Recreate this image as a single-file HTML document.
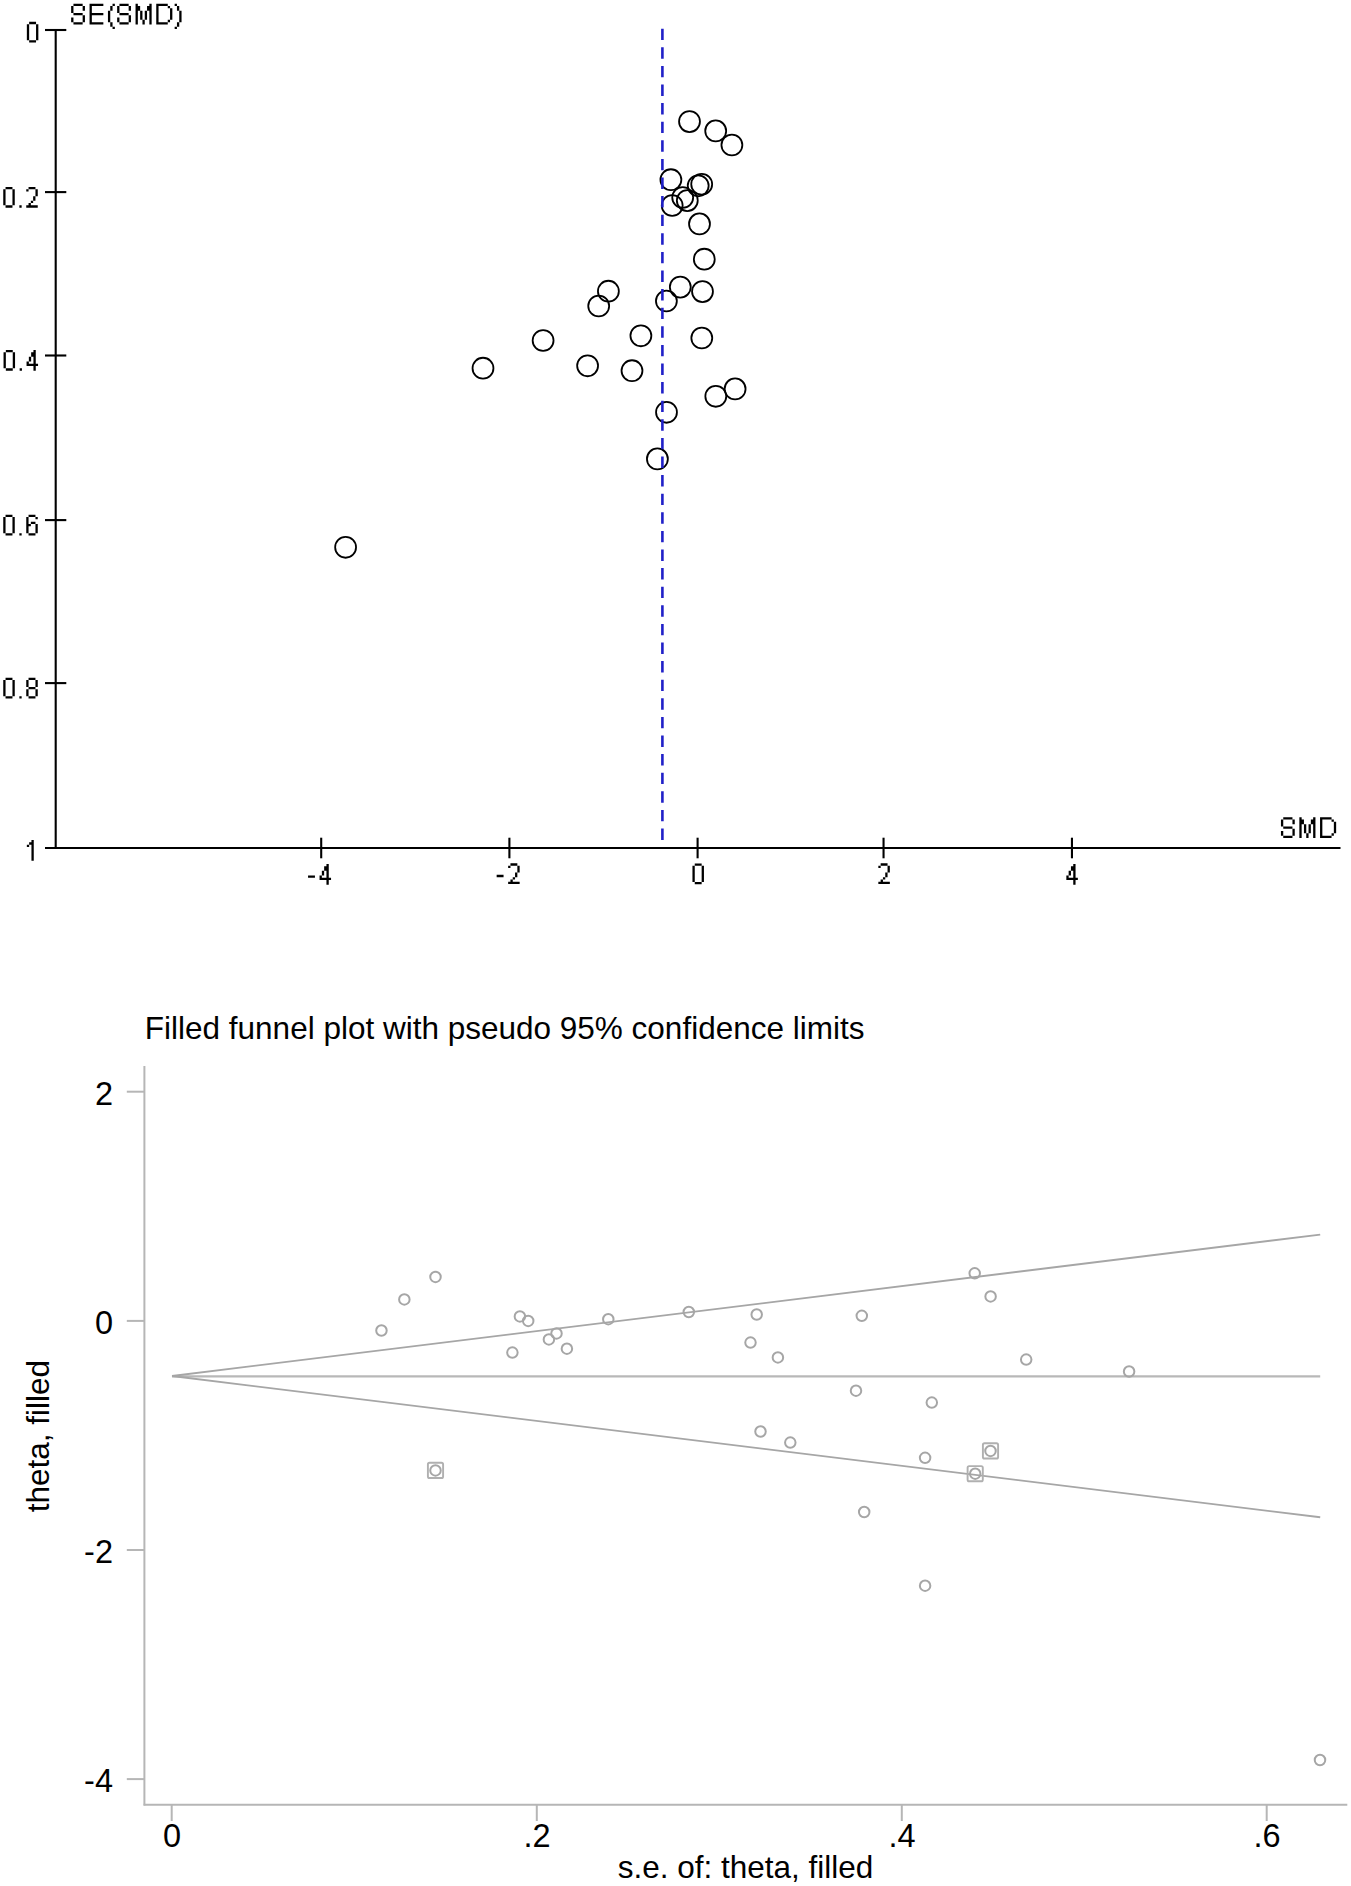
<!DOCTYPE html>
<html><head><meta charset="utf-8"><style>
html,body{margin:0;padding:0;background:#fff;width:1351px;height:1886px;overflow:hidden}
svg{position:absolute;left:0;top:0;display:block}
text{font-family:"Liberation Sans",sans-serif}
</style></head><body>
<svg width="1351" height="1886" viewBox="0 0 1351 1886">
<rect width="1351" height="1886" fill="#fff"/>
<g stroke="#000" stroke-width="2.1" fill="none">
<line x1="55.7" y1="29" x2="55.7" y2="849"/>
<line x1="45" y1="30" x2="66.3" y2="30"/>
<line x1="45" y1="192.1" x2="66.3" y2="192.1"/>
<line x1="45" y1="355.5" x2="66.3" y2="355.5"/>
<line x1="45" y1="520.1" x2="66.3" y2="520.1"/>
<line x1="45" y1="683.1" x2="66.3" y2="683.1"/>
<line x1="45" y1="848" x2="1340.5" y2="848"/>
<line x1="321.2" y1="837.7" x2="321.2" y2="858.3"/>
<line x1="509.4" y1="837.7" x2="509.4" y2="858.3"/>
<line x1="697.6" y1="837.7" x2="697.6" y2="858.3"/>
<line x1="883.55" y1="837.7" x2="883.55" y2="858.3"/>
<line x1="1071.95" y1="837.7" x2="1071.95" y2="858.3"/>
<circle cx="689.50" cy="121.60" r="10.45" stroke-width="1.8"/>
<circle cx="715.70" cy="130.90" r="10.45" stroke-width="1.8"/>
<circle cx="731.90" cy="145.00" r="10.45" stroke-width="1.8"/>
<circle cx="701.70" cy="184.30" r="10.45" stroke-width="1.8"/>
<circle cx="698.20" cy="185.80" r="10.45" stroke-width="1.8"/>
<circle cx="670.90" cy="179.70" r="10.45" stroke-width="1.8"/>
<circle cx="682.70" cy="197.50" r="10.45" stroke-width="1.8"/>
<circle cx="687.30" cy="200.60" r="10.45" stroke-width="1.8"/>
<circle cx="672.20" cy="205.50" r="10.45" stroke-width="1.8"/>
<circle cx="699.50" cy="223.90" r="10.45" stroke-width="1.8"/>
<circle cx="704.30" cy="259.20" r="10.45" stroke-width="1.8"/>
<circle cx="702.50" cy="291.60" r="10.45" stroke-width="1.8"/>
<circle cx="680.30" cy="287.10" r="10.45" stroke-width="1.8"/>
<circle cx="666.40" cy="301.00" r="10.45" stroke-width="1.8"/>
<circle cx="701.80" cy="338.00" r="10.45" stroke-width="1.8"/>
<circle cx="640.90" cy="335.80" r="10.45" stroke-width="1.8"/>
<circle cx="632.00" cy="370.70" r="10.45" stroke-width="1.8"/>
<circle cx="735.10" cy="388.90" r="10.45" stroke-width="1.8"/>
<circle cx="715.80" cy="396.30" r="10.45" stroke-width="1.8"/>
<circle cx="666.50" cy="412.30" r="10.45" stroke-width="1.8"/>
<circle cx="608.40" cy="291.20" r="10.45" stroke-width="1.8"/>
<circle cx="598.70" cy="306.00" r="10.45" stroke-width="1.8"/>
<circle cx="587.60" cy="365.80" r="10.45" stroke-width="1.8"/>
<circle cx="543.10" cy="340.50" r="10.45" stroke-width="1.8"/>
<circle cx="483.00" cy="368.20" r="10.45" stroke-width="1.8"/>
<circle cx="657.40" cy="458.90" r="10.45" stroke-width="1.8"/>
<circle cx="345.60" cy="547.30" r="10.45" stroke-width="1.8"/>
</g>
<line x1="662.4" y1="28.7" x2="662.4" y2="840" stroke="#2020c8" stroke-width="2.6" stroke-dasharray="11.4 7.2"/>
<path d="M29.15 21.85h6.90v2.30h-6.90zM26.85 24.15h2.30v2.30h-2.30zM36.05 24.15h2.30v2.30h-2.30zM26.85 26.45h2.30v2.30h-2.30zM36.05 26.45h2.30v2.30h-2.30zM26.85 28.75h2.30v2.30h-2.30zM36.05 28.75h2.30v2.30h-2.30zM26.85 31.05h2.30v2.30h-2.30zM36.05 31.05h2.30v2.30h-2.30zM26.85 33.35h2.30v2.30h-2.30zM36.05 33.35h2.30v2.30h-2.30zM26.85 35.65h2.30v2.30h-2.30zM36.05 35.65h2.30v2.30h-2.30zM26.85 37.95h2.30v2.30h-2.30zM36.05 37.95h2.30v2.30h-2.30zM29.15 40.25h6.90v2.30h-6.90zM5.55 186.95h6.90v2.30h-6.90zM3.25 189.25h2.30v2.30h-2.30zM12.45 189.25h2.30v2.30h-2.30zM3.25 191.55h2.30v2.30h-2.30zM12.45 191.55h2.30v2.30h-2.30zM3.25 193.85h2.30v2.30h-2.30zM12.45 193.85h2.30v2.30h-2.30zM3.25 196.15h2.30v2.30h-2.30zM12.45 196.15h2.30v2.30h-2.30zM3.25 198.45h2.30v2.30h-2.30zM12.45 198.45h2.30v2.30h-2.30zM3.25 200.75h2.30v2.30h-2.30zM12.45 200.75h2.30v2.30h-2.30zM3.25 203.05h2.30v2.30h-2.30zM12.45 203.05h2.30v2.30h-2.30zM5.55 205.35h6.90v2.30h-6.90zM19.35 205.35h2.30v2.30h-2.30zM28.55 186.95h6.90v2.30h-6.90zM26.25 189.25h2.30v2.30h-2.30zM35.45 189.25h2.30v2.30h-2.30zM35.45 191.55h2.30v2.30h-2.30zM35.45 193.85h2.30v2.30h-2.30zM33.15 196.15h2.30v2.30h-2.30zM33.15 198.45h2.30v2.30h-2.30zM30.85 200.75h2.30v2.30h-2.30zM28.55 203.05h2.30v2.30h-2.30zM26.25 205.35h11.50v2.30h-11.50zM5.85 349.95h6.90v2.30h-6.90zM3.55 352.25h2.30v2.30h-2.30zM12.75 352.25h2.30v2.30h-2.30zM3.55 354.55h2.30v2.30h-2.30zM12.75 354.55h2.30v2.30h-2.30zM3.55 356.85h2.30v2.30h-2.30zM12.75 356.85h2.30v2.30h-2.30zM3.55 359.15h2.30v2.30h-2.30zM12.75 359.15h2.30v2.30h-2.30zM3.55 361.45h2.30v2.30h-2.30zM12.75 361.45h2.30v2.30h-2.30zM3.55 363.75h2.30v2.30h-2.30zM12.75 363.75h2.30v2.30h-2.30zM3.55 366.05h2.30v2.30h-2.30zM12.75 366.05h2.30v2.30h-2.30zM5.85 368.35h6.90v2.30h-6.90zM19.65 368.35h2.30v2.30h-2.30zM33.45 349.95h2.30v2.30h-2.30zM31.15 352.25h4.60v2.30h-4.60zM31.15 354.55h4.60v2.30h-4.60zM28.85 356.85h2.30v2.30h-2.30zM33.45 356.85h2.30v2.30h-2.30zM28.85 359.15h2.30v2.30h-2.30zM33.45 359.15h2.30v2.30h-2.30zM26.55 361.45h2.30v2.30h-2.30zM33.45 361.45h2.30v2.30h-2.30zM26.55 363.75h11.50v2.30h-11.50zM33.45 366.05h2.30v2.30h-2.30zM33.45 368.35h2.30v2.30h-2.30zM5.55 514.75h6.90v2.30h-6.90zM3.25 517.05h2.30v2.30h-2.30zM12.45 517.05h2.30v2.30h-2.30zM3.25 519.35h2.30v2.30h-2.30zM12.45 519.35h2.30v2.30h-2.30zM3.25 521.65h2.30v2.30h-2.30zM12.45 521.65h2.30v2.30h-2.30zM3.25 523.95h2.30v2.30h-2.30zM12.45 523.95h2.30v2.30h-2.30zM3.25 526.25h2.30v2.30h-2.30zM12.45 526.25h2.30v2.30h-2.30zM3.25 528.55h2.30v2.30h-2.30zM12.45 528.55h2.30v2.30h-2.30zM3.25 530.85h2.30v2.30h-2.30zM12.45 530.85h2.30v2.30h-2.30zM5.55 533.15h6.90v2.30h-6.90zM19.35 533.15h2.30v2.30h-2.30zM28.55 514.75h6.90v2.30h-6.90zM26.25 517.05h2.30v2.30h-2.30zM35.45 517.05h2.30v2.30h-2.30zM26.25 519.35h2.30v2.30h-2.30zM26.25 521.65h2.30v2.30h-2.30zM30.85 521.65h4.60v2.30h-4.60zM26.25 523.95h4.60v2.30h-4.60zM35.45 523.95h2.30v2.30h-2.30zM26.25 526.25h2.30v2.30h-2.30zM35.45 526.25h2.30v2.30h-2.30zM26.25 528.55h2.30v2.30h-2.30zM35.45 528.55h2.30v2.30h-2.30zM26.25 530.85h2.30v2.30h-2.30zM35.45 530.85h2.30v2.30h-2.30zM28.55 533.15h6.90v2.30h-6.90zM5.55 677.75h6.90v2.30h-6.90zM3.25 680.05h2.30v2.30h-2.30zM12.45 680.05h2.30v2.30h-2.30zM3.25 682.35h2.30v2.30h-2.30zM12.45 682.35h2.30v2.30h-2.30zM3.25 684.65h2.30v2.30h-2.30zM12.45 684.65h2.30v2.30h-2.30zM3.25 686.95h2.30v2.30h-2.30zM12.45 686.95h2.30v2.30h-2.30zM3.25 689.25h2.30v2.30h-2.30zM12.45 689.25h2.30v2.30h-2.30zM3.25 691.55h2.30v2.30h-2.30zM12.45 691.55h2.30v2.30h-2.30zM3.25 693.85h2.30v2.30h-2.30zM12.45 693.85h2.30v2.30h-2.30zM5.55 696.15h6.90v2.30h-6.90zM19.35 696.15h2.30v2.30h-2.30zM28.55 677.75h6.90v2.30h-6.90zM26.25 680.05h2.30v2.30h-2.30zM35.45 680.05h2.30v2.30h-2.30zM26.25 682.35h2.30v2.30h-2.30zM35.45 682.35h2.30v2.30h-2.30zM26.25 684.65h2.30v2.30h-2.30zM35.45 684.65h2.30v2.30h-2.30zM28.55 686.95h6.90v2.30h-6.90zM26.25 689.25h2.30v2.30h-2.30zM35.45 689.25h2.30v2.30h-2.30zM26.25 691.55h2.30v2.30h-2.30zM35.45 691.55h2.30v2.30h-2.30zM26.25 693.85h2.30v2.30h-2.30zM35.45 693.85h2.30v2.30h-2.30zM28.55 696.15h6.90v2.30h-6.90zM31.45 840.05h2.30v2.30h-2.30zM29.15 842.35h4.60v2.30h-4.60zM26.85 844.65h2.30v2.30h-2.30zM31.45 844.65h2.30v2.30h-2.30zM31.45 846.95h2.30v2.30h-2.30zM31.45 849.25h2.30v2.30h-2.30zM31.45 851.55h2.30v2.30h-2.30zM31.45 853.85h2.30v2.30h-2.30zM31.45 856.15h2.30v2.30h-2.30zM31.45 858.45h2.30v2.30h-2.30zM308.05 875.45h6.90v2.30h-6.90zM326.45 863.95h2.30v2.30h-2.30zM324.15 866.25h4.60v2.30h-4.60zM324.15 868.55h4.60v2.30h-4.60zM321.85 870.85h2.30v2.30h-2.30zM326.45 870.85h2.30v2.30h-2.30zM321.85 873.15h2.30v2.30h-2.30zM326.45 873.15h2.30v2.30h-2.30zM319.55 875.45h2.30v2.30h-2.30zM326.45 875.45h2.30v2.30h-2.30zM319.55 877.75h11.50v2.30h-11.50zM326.45 880.05h2.30v2.30h-2.30zM326.45 882.35h2.30v2.30h-2.30zM496.65 874.85h6.90v2.30h-6.90zM510.45 863.35h6.90v2.30h-6.90zM508.15 865.65h2.30v2.30h-2.30zM517.35 865.65h2.30v2.30h-2.30zM517.35 867.95h2.30v2.30h-2.30zM517.35 870.25h2.30v2.30h-2.30zM515.05 872.55h2.30v2.30h-2.30zM515.05 874.85h2.30v2.30h-2.30zM512.75 877.15h2.30v2.30h-2.30zM510.45 879.45h2.30v2.30h-2.30zM508.15 881.75h11.50v2.30h-11.50zM694.75 863.55h6.90v2.30h-6.90zM692.45 865.85h2.30v2.30h-2.30zM701.65 865.85h2.30v2.30h-2.30zM692.45 868.15h2.30v2.30h-2.30zM701.65 868.15h2.30v2.30h-2.30zM692.45 870.45h2.30v2.30h-2.30zM701.65 870.45h2.30v2.30h-2.30zM692.45 872.75h2.30v2.30h-2.30zM701.65 872.75h2.30v2.30h-2.30zM692.45 875.05h2.30v2.30h-2.30zM701.65 875.05h2.30v2.30h-2.30zM692.45 877.35h2.30v2.30h-2.30zM701.65 877.35h2.30v2.30h-2.30zM692.45 879.65h2.30v2.30h-2.30zM701.65 879.65h2.30v2.30h-2.30zM694.75 881.95h6.90v2.30h-6.90zM880.65 863.35h6.90v2.30h-6.90zM878.35 865.65h2.30v2.30h-2.30zM887.55 865.65h2.30v2.30h-2.30zM887.55 867.95h2.30v2.30h-2.30zM887.55 870.25h2.30v2.30h-2.30zM885.25 872.55h2.30v2.30h-2.30zM885.25 874.85h2.30v2.30h-2.30zM882.95 877.15h2.30v2.30h-2.30zM880.65 879.45h2.30v2.30h-2.30zM878.35 881.75h11.50v2.30h-11.50zM1073.25 863.95h2.30v2.30h-2.30zM1070.95 866.25h4.60v2.30h-4.60zM1070.95 868.55h4.60v2.30h-4.60zM1068.65 870.85h2.30v2.30h-2.30zM1073.25 870.85h2.30v2.30h-2.30zM1068.65 873.15h2.30v2.30h-2.30zM1073.25 873.15h2.30v2.30h-2.30zM1066.35 875.45h2.30v2.30h-2.30zM1073.25 875.45h2.30v2.30h-2.30zM1066.35 877.75h11.50v2.30h-11.50zM1073.25 880.05h2.30v2.30h-2.30zM1073.25 882.35h2.30v2.30h-2.30zM73.45 3.75h9.20v2.30h-9.20zM71.15 6.05h2.30v2.30h-2.30zM82.65 6.05h2.30v2.30h-2.30zM71.15 8.35h2.30v2.30h-2.30zM82.65 8.35h2.30v2.30h-2.30zM71.15 10.65h2.30v2.30h-2.30zM73.45 12.95h9.20v2.30h-9.20zM82.65 15.25h2.30v2.30h-2.30zM71.15 17.55h2.30v2.30h-2.30zM82.65 17.55h2.30v2.30h-2.30zM71.15 19.85h2.30v2.30h-2.30zM82.65 19.85h2.30v2.30h-2.30zM73.45 22.15h9.20v2.30h-9.20zM89.55 3.75h13.80v2.30h-13.80zM89.55 6.05h2.30v2.30h-2.30zM89.55 8.35h2.30v2.30h-2.30zM89.55 10.65h2.30v2.30h-2.30zM89.55 12.95h13.80v2.30h-13.80zM89.55 15.25h2.30v2.30h-2.30zM89.55 17.55h2.30v2.30h-2.30zM89.55 19.85h2.30v2.30h-2.30zM89.55 22.15h13.80v2.30h-13.80zM112.55 3.75h2.30v2.30h-2.30zM110.25 6.05h2.30v2.30h-2.30zM110.25 8.35h2.30v2.30h-2.30zM107.95 10.65h2.30v2.30h-2.30zM107.95 12.95h2.30v2.30h-2.30zM107.95 15.25h2.30v2.30h-2.30zM107.95 17.55h2.30v2.30h-2.30zM107.95 19.85h2.30v2.30h-2.30zM110.25 22.15h2.30v2.30h-2.30zM110.25 24.45h2.30v2.30h-2.30zM112.55 26.75h2.30v2.30h-2.30zM119.45 3.75h9.20v2.30h-9.20zM117.15 6.05h2.30v2.30h-2.30zM128.65 6.05h2.30v2.30h-2.30zM117.15 8.35h2.30v2.30h-2.30zM128.65 8.35h2.30v2.30h-2.30zM117.15 10.65h2.30v2.30h-2.30zM119.45 12.95h9.20v2.30h-9.20zM128.65 15.25h2.30v2.30h-2.30zM117.15 17.55h2.30v2.30h-2.30zM128.65 17.55h2.30v2.30h-2.30zM117.15 19.85h2.30v2.30h-2.30zM128.65 19.85h2.30v2.30h-2.30zM119.45 22.15h9.20v2.30h-9.20zM135.55 3.75h2.30v2.30h-2.30zM149.35 3.75h2.30v2.30h-2.30zM135.55 6.05h4.60v2.30h-4.60zM147.05 6.05h4.60v2.30h-4.60zM135.55 8.35h4.60v2.30h-4.60zM147.05 8.35h4.60v2.30h-4.60zM135.55 10.65h2.30v2.30h-2.30zM140.15 10.65h2.30v2.30h-2.30zM144.75 10.65h2.30v2.30h-2.30zM149.35 10.65h2.30v2.30h-2.30zM135.55 12.95h2.30v2.30h-2.30zM140.15 12.95h2.30v2.30h-2.30zM144.75 12.95h2.30v2.30h-2.30zM149.35 12.95h2.30v2.30h-2.30zM135.55 15.25h2.30v2.30h-2.30zM140.15 15.25h2.30v2.30h-2.30zM144.75 15.25h2.30v2.30h-2.30zM149.35 15.25h2.30v2.30h-2.30zM135.55 17.55h2.30v2.30h-2.30zM140.15 17.55h2.30v2.30h-2.30zM144.75 17.55h2.30v2.30h-2.30zM149.35 17.55h2.30v2.30h-2.30zM135.55 19.85h2.30v2.30h-2.30zM142.45 19.85h2.30v2.30h-2.30zM149.35 19.85h2.30v2.30h-2.30zM135.55 22.15h2.30v2.30h-2.30zM142.45 22.15h2.30v2.30h-2.30zM149.35 22.15h2.30v2.30h-2.30zM156.25 3.75h11.50v2.30h-11.50zM156.25 6.05h2.30v2.30h-2.30zM167.75 6.05h2.30v2.30h-2.30zM156.25 8.35h2.30v2.30h-2.30zM170.05 8.35h2.30v2.30h-2.30zM156.25 10.65h2.30v2.30h-2.30zM170.05 10.65h2.30v2.30h-2.30zM156.25 12.95h2.30v2.30h-2.30zM170.05 12.95h2.30v2.30h-2.30zM156.25 15.25h2.30v2.30h-2.30zM170.05 15.25h2.30v2.30h-2.30zM156.25 17.55h2.30v2.30h-2.30zM170.05 17.55h2.30v2.30h-2.30zM156.25 19.85h2.30v2.30h-2.30zM167.75 19.85h2.30v2.30h-2.30zM156.25 22.15h11.50v2.30h-11.50zM174.65 3.75h2.30v2.30h-2.30zM176.95 6.05h2.30v2.30h-2.30zM176.95 8.35h2.30v2.30h-2.30zM179.25 10.65h2.30v2.30h-2.30zM179.25 12.95h2.30v2.30h-2.30zM179.25 15.25h2.30v2.30h-2.30zM179.25 17.55h2.30v2.30h-2.30zM179.25 19.85h2.30v2.30h-2.30zM176.95 22.15h2.30v2.30h-2.30zM176.95 24.45h2.30v2.30h-2.30zM174.65 26.75h2.30v2.30h-2.30zM1283.25 817.25h9.20v2.30h-9.20zM1280.95 819.55h2.30v2.30h-2.30zM1292.45 819.55h2.30v2.30h-2.30zM1280.95 821.85h2.30v2.30h-2.30zM1292.45 821.85h2.30v2.30h-2.30zM1280.95 824.15h2.30v2.30h-2.30zM1283.25 826.45h9.20v2.30h-9.20zM1292.45 828.75h2.30v2.30h-2.30zM1280.95 831.05h2.30v2.30h-2.30zM1292.45 831.05h2.30v2.30h-2.30zM1280.95 833.35h2.30v2.30h-2.30zM1292.45 833.35h2.30v2.30h-2.30zM1283.25 835.65h9.20v2.30h-9.20zM1299.35 817.25h2.30v2.30h-2.30zM1313.15 817.25h2.30v2.30h-2.30zM1299.35 819.55h4.60v2.30h-4.60zM1310.85 819.55h4.60v2.30h-4.60zM1299.35 821.85h4.60v2.30h-4.60zM1310.85 821.85h4.60v2.30h-4.60zM1299.35 824.15h2.30v2.30h-2.30zM1303.95 824.15h2.30v2.30h-2.30zM1308.55 824.15h2.30v2.30h-2.30zM1313.15 824.15h2.30v2.30h-2.30zM1299.35 826.45h2.30v2.30h-2.30zM1303.95 826.45h2.30v2.30h-2.30zM1308.55 826.45h2.30v2.30h-2.30zM1313.15 826.45h2.30v2.30h-2.30zM1299.35 828.75h2.30v2.30h-2.30zM1303.95 828.75h2.30v2.30h-2.30zM1308.55 828.75h2.30v2.30h-2.30zM1313.15 828.75h2.30v2.30h-2.30zM1299.35 831.05h2.30v2.30h-2.30zM1303.95 831.05h2.30v2.30h-2.30zM1308.55 831.05h2.30v2.30h-2.30zM1313.15 831.05h2.30v2.30h-2.30zM1299.35 833.35h2.30v2.30h-2.30zM1306.25 833.35h2.30v2.30h-2.30zM1313.15 833.35h2.30v2.30h-2.30zM1299.35 835.65h2.30v2.30h-2.30zM1306.25 835.65h2.30v2.30h-2.30zM1313.15 835.65h2.30v2.30h-2.30zM1320.05 817.25h11.50v2.30h-11.50zM1320.05 819.55h2.30v2.30h-2.30zM1331.55 819.55h2.30v2.30h-2.30zM1320.05 821.85h2.30v2.30h-2.30zM1333.85 821.85h2.30v2.30h-2.30zM1320.05 824.15h2.30v2.30h-2.30zM1333.85 824.15h2.30v2.30h-2.30zM1320.05 826.45h2.30v2.30h-2.30zM1333.85 826.45h2.30v2.30h-2.30zM1320.05 828.75h2.30v2.30h-2.30zM1333.85 828.75h2.30v2.30h-2.30zM1320.05 831.05h2.30v2.30h-2.30zM1333.85 831.05h2.30v2.30h-2.30zM1320.05 833.35h2.30v2.30h-2.30zM1331.55 833.35h2.30v2.30h-2.30zM1320.05 835.65h11.50v2.30h-11.50z" fill="#000"/>
<g stroke="#b6b6b6" stroke-width="2.0" fill="none">
<line x1="144.4" y1="1066" x2="144.4" y2="1805.6"/>
<line x1="143.6" y1="1804.8" x2="1347.3" y2="1804.8"/>
<line x1="126.8" y1="1091.7" x2="144.4" y2="1091.7"/>
<line x1="126.8" y1="1320.9" x2="144.4" y2="1320.9"/>
<line x1="126.8" y1="1550" x2="144.4" y2="1550"/>
<line x1="126.8" y1="1779.1" x2="144.4" y2="1779.1"/>
<line x1="171.7" y1="1804.8" x2="171.7" y2="1821"/>
<line x1="536.8" y1="1804.8" x2="536.8" y2="1821"/>
<line x1="901.8" y1="1804.8" x2="901.8" y2="1821"/>
<line x1="1266.7" y1="1804.8" x2="1266.7" y2="1821"/>
<line x1="172" y1="1376.4" x2="1320.2" y2="1376.4" stroke-width="2.3" stroke="#b8b8b8"/>
<line x1="172" y1="1376" x2="1320.2" y2="1234.6" stroke="#a6a6a6" stroke-width="1.9"/>
<line x1="172" y1="1376" x2="1320.2" y2="1517.3" stroke="#a6a6a6" stroke-width="1.9"/>
</g>
<g stroke="#a6a6a6" stroke-width="2.0" fill="none">
<circle cx="381.45" cy="1330.5" r="5.25"/>
<circle cx="404.35" cy="1299.4" r="5.25"/>
<circle cx="435.5" cy="1276.9" r="5.25"/>
<circle cx="519.9" cy="1316.4" r="5.25"/>
<circle cx="528.2" cy="1320.9" r="5.25"/>
<circle cx="512.4" cy="1352.6" r="5.25"/>
<circle cx="548.9" cy="1339.4" r="5.25"/>
<circle cx="556.5" cy="1333.4" r="5.25"/>
<circle cx="566.9" cy="1348.7" r="5.25"/>
<circle cx="608.3" cy="1319.2" r="5.25"/>
<circle cx="688.8" cy="1312" r="5.25"/>
<circle cx="756.7" cy="1314.5" r="5.25"/>
<circle cx="750.5" cy="1342.6" r="5.25"/>
<circle cx="777.9" cy="1357.4" r="5.25"/>
<circle cx="861.8" cy="1315.8" r="5.25"/>
<circle cx="856" cy="1390.7" r="5.25"/>
<circle cx="931.8" cy="1402.6" r="5.25"/>
<circle cx="974.7" cy="1273.3" r="5.25"/>
<circle cx="990.6" cy="1296.4" r="5.25"/>
<circle cx="1026.2" cy="1359.6" r="5.25"/>
<circle cx="760.5" cy="1431.5" r="5.25"/>
<circle cx="790.3" cy="1442.6" r="5.25"/>
<circle cx="925.1" cy="1457.8" r="5.25"/>
<circle cx="864.2" cy="1512" r="5.25"/>
<circle cx="925.1" cy="1585.7" r="5.25"/>
<circle cx="1129.1" cy="1371.5" r="5.25"/>
<circle cx="1320" cy="1760" r="5.25"/>
<circle cx="435.5" cy="1470.4" r="5.25"/>
<rect x="427.9" y="1462.8000000000002" width="15.2" height="15.2" rx="1.6" stroke="#b0b0b0" stroke-width="1.9"/>
<circle cx="975.2" cy="1473.7" r="5.25"/>
<rect x="967.6" y="1466.1000000000001" width="15.2" height="15.2" rx="1.6" stroke="#b0b0b0" stroke-width="1.9"/>
<circle cx="990.5" cy="1450.9" r="5.25"/>
<rect x="982.9" y="1443.3000000000002" width="15.2" height="15.2" rx="1.6" stroke="#b0b0b0" stroke-width="1.9"/>
</g>
<g font-size="31.5" fill="#000">
<text x="144.8" y="1039.1">Filled funnel plot with pseudo 95% confidence limits</text>
<text x="113" y="1104.9" text-anchor="end" font-size="32.5">2</text>
<text x="113" y="1334.1000000000001" text-anchor="end" font-size="32.5">0</text>
<text x="113" y="1563.2" text-anchor="end" font-size="32.5">-2</text>
<text x="113" y="1792.3" text-anchor="end" font-size="32.5">-4</text>
<text x="172.0" y="1847.2" text-anchor="middle" font-size="32.5">0</text>
<text x="537.0999999999999" y="1847.2" text-anchor="middle" font-size="32.5">.2</text>
<text x="902.0999999999999" y="1847.2" text-anchor="middle" font-size="32.5">.4</text>
<text x="1267.0" y="1847.2" text-anchor="middle" font-size="32.5">.6</text>
<text x="745.5" y="1877.8" text-anchor="middle">s.e. of: theta, filled</text>
<text transform="translate(48.8,1436.2) rotate(-90)" text-anchor="middle">theta, filled</text>
</g>
</svg>
</body></html>
